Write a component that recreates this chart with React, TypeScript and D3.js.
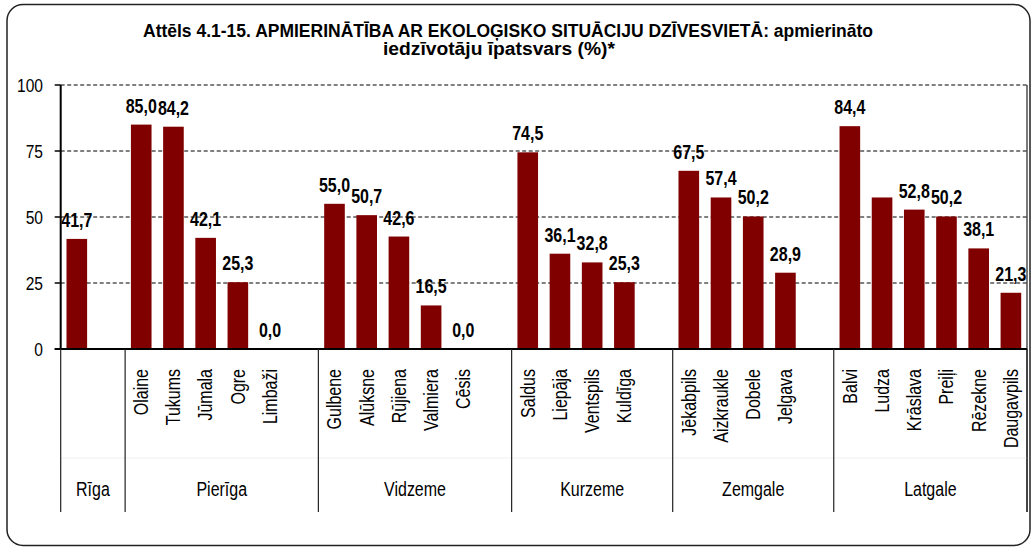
import React from "react";
import * as d3 from "d3";

// ---- data ----
const slotRegions = [
  "Rīga", "Rīga",
  "Pierīga", "Pierīga", "Pierīga", "Pierīga", "Pierīga", "Pierīga",
  "Vidzeme", "Vidzeme", "Vidzeme", "Vidzeme", "Vidzeme", "Vidzeme",
  "Kurzeme", "Kurzeme", "Kurzeme", "Kurzeme", "Kurzeme",
  "Zemgale", "Zemgale", "Zemgale", "Zemgale", "Zemgale",
  "Latgale", "Latgale", "Latgale", "Latgale", "Latgale", "Latgale",
];
const slotCities = [
  "", "",
  "Olaine", "Tukums", "Jūmala", "Ogre", "Limbaži", "",
  "Gulbene", "Alūksne", "Rūjiena", "Valmiera", "Cēsis", "",
  "Saldus", "Liepāja", "Ventspils", "Kuldīga", "",
  "Jēkabpils", "Aizkraukle", "Dobele", "Jelgava", "",
  "Balvi", "Ludza", "Krāslava", "Preiļi", "Rēzekne", "Daugavpils",
];
const slotValues: (number | null)[] = [
  41.7, null,
  85.0, 84.2, 42.1, 25.3, 0.0, null,
  55.0, 50.7, 42.6, 16.5, 0.0, null,
  74.5, 36.1, 32.8, 25.3, null,
  67.5, 57.4, 50.2, 28.9, null,
  84.4, 57.4, 52.8, 50.2, 38.1, 21.3,
];
const hiddenValueLabels = ["Ludza"];
const yTicks = [0, 25, 50, 75, 100];
const titleLine1 = "Attēls 4.1-15. APMIERINĀTĪBA AR EKOLOĢISKO  SITUĀCIJU DZĪVESVIETĀ: apmierināto";
const titleLine2 = "iedzīvotāju īpatsvars (%)*";

const FONT = "'Liberation Sans', Arial, sans-serif";
const BAR = "#800000";
const NARROW = 0.82;

function T(props: {
  x: number; y: number; rotate?: number; anchor?: string; size: number; bold?: boolean; dy?: string; children: React.ReactNode;
}) {
  const { x, y, rotate = 0, anchor = "start", size, bold, dy, children } = props;
  return (
    <text transform={`translate(${x},${y}) rotate(${rotate}) scale(${NARROW},1)`}
      textAnchor={anchor} dy={dy} fontSize={size} fontWeight={bold ? "bold" : "normal"} fill="#000">
      {children}
    </text>
  );
}

export default function App() {
  const W = 1033, H = 549;
  const left = 60.7, right = 1027, top = 85, bottom = 349, catBottom = 512;

  const x = d3.scaleBand<number>()
    .domain(d3.range(slotValues.length))
    .range([left, right])
    .paddingInner(0.36)
    .paddingOuter(0.18);
  const y = d3.scaleLinear().domain([0, 100]).range([bottom, top]);
  const step = x.step();
  const bw = x.bandwidth();
  const slotLeft = (i: number) => (x(i) as number) - (step - bw) / 2;
  const fmt = (v: number) => d3.format(".1f")(v).replace(".", ",");

  const groups: { name: string; first: number; last: number }[] = [];
  slotRegions.forEach((r, i) => {
    const g = groups[groups.length - 1];
    if (g && g.name === r) g.last = i;
    else groups.push({ name: r, first: i, last: i });
  });
  const boundaries = groups.map((g) => slotLeft(g.first)).concat([right]);

  return (
    <svg width={W} height={H} style={{ position: "absolute", left: 0, top: 0, background: "#fff" }}
      fontFamily={FONT}>
      <rect x={7} y={4.5} width={1023} height={541} rx={16} ry={16} fill="#fff" stroke="#222" strokeWidth={1.5} />

      {/* title */}
      <text x={143} y={37} fontSize={17.5} fontWeight="bold" fill="#000"
        textLength={730} lengthAdjust="spacingAndGlyphs">{titleLine1}</text>
      <text x={383} y={55} fontSize={17.5} fontWeight="bold" fill="#000"
        textLength={232} lengthAdjust="spacingAndGlyphs">{titleLine2}</text>

      {/* gridlines */}
      {yTicks.filter((t) => t > 0).map((t) => (
        <line key={"g" + t} x1={left} x2={right} y1={y(t)} y2={y(t)}
          stroke="#000" strokeWidth={1} strokeDasharray="4,2.5" />
      ))}

      {/* bars */}
      {slotValues.map((v, i) =>
        v == null || v === 0 ? null : (
          <rect key={"b" + i} x={x(i)} y={y(v)} width={bw} height={y(0) - y(v)} fill={BAR} />
        )
      )}

      {/* value labels */}
      {slotValues.map((v, i) =>
        v == null || hiddenValueLabels.includes(slotCities[i]) ? null : (
          <T key={"v" + i} x={(x(i) as number) + bw / 2} y={y(v) - 12} anchor="middle" size={19.5} bold>
            {fmt(v)}
          </T>
        )
      )}

      {/* plot right border */}
      <line x1={right} x2={right} y1={top} y2={catBottom} stroke="#222" strokeWidth={1.2} />

      {/* y axis */}
      <line x1={left} x2={left} y1={top} y2={bottom} stroke="#000" strokeWidth={2} />
      {yTicks.map((t) => (
        <g key={"t" + t}>
          <line x1={left - 6} x2={left} y1={y(t)} y2={y(t)} stroke="#000" strokeWidth={1.5} />
          <T x={43} y={y(t)} dy="0.35em" anchor="end" size={19}>{t}</T>
        </g>
      ))}

      {/* category axis */}
      <line x1={left - 6} x2={right} y1={bottom} y2={bottom} stroke="#000" strokeWidth={2} />
      <line x1={left} x2={right} y1={458} y2={458} stroke="#f0f0f0" strokeWidth={1} />
      {boundaries.map((bx, i) => (
        <line key={"s" + i} x1={bx} x2={bx} y1={bottom} y2={catBottom} stroke="#222" strokeWidth={1.2} />
      ))}
      {slotCities.map((c, i) =>
        c ? (
          <T key={"c" + i} x={(x(i) as number) + bw / 2} y={369} rotate={-90} anchor="end" dy="0.35em" size={19.5}>
            {c}
          </T>
        ) : null
      )}
      {groups.map((g, i) => (
        <T key={"r" + i} x={(boundaries[i] + boundaries[i + 1]) / 2} y={496} anchor="middle" size={19.5}>
          {g.name}
        </T>
      ))}
    </svg>
  );
}
